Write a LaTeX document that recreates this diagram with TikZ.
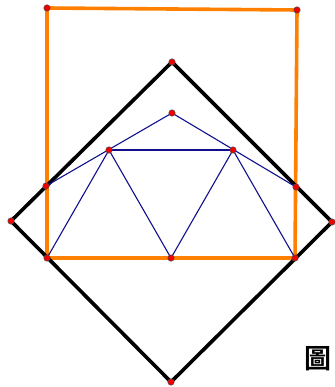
\documentclass[tikz,border=0pt]{standalone}
\usepackage{fontspec}
\newfontfamily\cjkfont[BoldFont={Noto Sans CJK TC Bold}]{Noto Sans CJK TC}
\definecolor{sqorange}{RGB}{255,128,0}
\definecolor{navy}{RGB}{16,16,140}
\definecolor{dotred}{RGB}{240,0,0}

\begin{document}
\begin{tikzpicture}[
  x=1pt, y=-1pt,
  line cap=round, line join=round,
  sq/.style={line width=3.6pt, draw=sqorange},
  dia/.style={line width=3.6pt, draw=black},
  web/.style={line width=1.1pt, draw=navy},
  pt/.style={circle, fill=dotred, draw=black!70, line width=0.5pt, inner sep=0pt, minimum size=6.5pt}
]
  \useasboundingbox (0,0) rectangle (334,387);

  % orange square
  \coordinate (A) at (47,8);
  \coordinate (B) at (297,10);
  \coordinate (C) at (295,258);
  \coordinate (D) at (47,258);
  % black diamond
  \coordinate (N) at (172,62);
  \coordinate (W) at (11,221);
  \coordinate (S) at (171,382);
  \coordinate (E) at (332,222);
  % points of the blue figure
  \coordinate (P) at (172,113);
  \coordinate (L) at (109,150);
  \coordinate (R) at (233,150);
  \coordinate (M) at (171,258);
  \coordinate (Ql) at (46,186);
  \coordinate (Qr) at (296,187);

  \draw[sq] (A) -- (B) -- (C) -- (D) -- cycle;
  \draw[dia] (N) -- (E) -- (S) -- (W) -- cycle;

  % blue triangles
  \draw[web] (Ql) -- (P) -- (Qr);
  \draw[web] (D) -- (L) -- (M) -- (R) -- (C);
  \draw[web, line width=2pt] (L) -- (R);

  % vertices
  \foreach \p in {A,B,N,P,L,R,Ql,Qr,W,E,D,M,C,S}
    \node[pt] (dot\p) at (\p) {};

  \node[font=\cjkfont\bfseries\fontsize{27}{27}\selectfont, inner sep=0pt] (tag) at (318,359) {圖};
\end{tikzpicture}
\end{document}
